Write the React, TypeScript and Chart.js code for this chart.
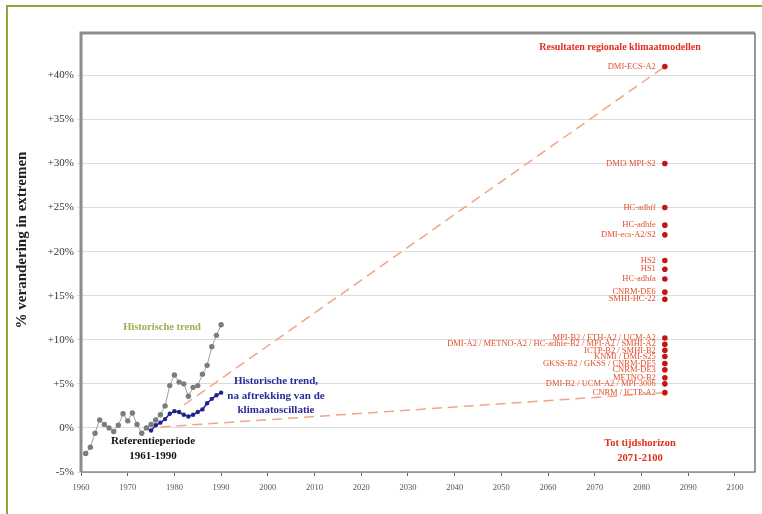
import React, { useEffect, useRef } from "react";
import { Chart, registerables } from "chart.js";

Chart.register(...registerables);

// Historic trend (yearly), % change in extremes
const histYears = [1961, 1962, 1963, 1964, 1965, 1966, 1967, 1968, 1969, 1970, 1971, 1972, 1973, 1974, 1975, 1976, 1977, 1978, 1979, 1980, 1981, 1982, 1983, 1984, 1985, 1986, 1987, 1988, 1989, 1990];
const histValues = [-2.9, -2.2, -0.6, 0.9, 0.4, 0.0, -0.4, 0.3, 1.6, 0.8, 1.7, 0.4, -0.6, 0.0, 0.4, 0.9, 1.5, 2.5, 4.8, 6.0, 5.2, 5.0, 3.6, 4.6, 4.8, 6.1, 7.1, 9.2, 10.5, 11.7];

// Historic trend after removing climate oscillation
const filtYears = [1974, 1975, 1976, 1977, 1978, 1979, 1980, 1981, 1982, 1983, 1984, 1985, 1986, 1987, 1988, 1989, 1990];
const filtValues = [0.0, -0.3, 0.3, 0.6, 1.0, 1.6, 1.9, 1.8, 1.5, 1.3, 1.5, 1.8, 2.1, 2.8, 3.3, 3.7, 4.0];

// Extrapolated envelopes
const upperYears = [1982, 2085];
const upperValues = [2.6, 41];
const lowerYears = [1977, 2085];
const lowerValues = [0.1, 4.0];

// Regional climate model results (horizon 2071-2100)
const modelYear = 2085;
const modelNames = [
  "DMI-ECS-A2",
  "DMI3 MPI-S2",
  "HC-adhff",
  "HC-adhfe",
  "DMI-ecs-A2/S2",
  "HS2",
  "HS1",
  "HC-adhfa",
  "CNRM-DE6",
  "SMHI-HC-22",
  "MPI-B2 / ETH-A2 / UCM-A2",
  "DMI-A2 / METNO-A2 / HC-adhfe-B2 / MPI-A2 / SMHI-A2",
  "ICTP-B2 / SMHI-B2",
  "KNMI / DMI-S25",
  "GKSS-B2 / GKSS / CNRM-DE5",
  "CNRM-DE3",
  "METNO-B2",
  "DMI-B2 / UCM-A2 / MPI-3006",
  "CNRM / ICTP-A2",
];
const modelValues = [41, 30, 25, 23, 21.9, 19, 18, 16.9, 15.4, 14.6, 10.2, 9.5, 8.8, 8.1, 7.3, 6.6, 5.7, 5.0, 4.0];

// Axes
const xTickYears = [1960, 1970, 1980, 1990, 2000, 2010, 2020, 2030, 2040, 2050, 2060, 2070, 2080, 2090, 2100];
const yTickValues = [-5, 0, 5, 10, 15, 20, 25, 30, 35, 40];
const yLabel = "% verandering in extremen";

const SERIF = "'Liberation Serif', 'DejaVu Serif', serif";

const decorPlugin = {
  id: "decor",
  beforeDraw(chart: any) {
    const ctx = chart.ctx;
    ctx.save();
    ctx.fillStyle = "#ffffff";
    ctx.fillRect(0, 0, chart.width, chart.height);
    // olive outer frame (top and left)
    ctx.strokeStyle = "#8fa53f";
    ctx.lineWidth = 2;
    ctx.beginPath();
    ctx.moveTo(7, chart.height);
    ctx.lineTo(7, 6);
    ctx.lineTo(chart.width, 6);
    ctx.stroke();
    ctx.restore();
  },
  afterDraw(chart: any) {
    const ctx = chart.ctx;
    const a = chart.chartArea;
    const xs = chart.scales.x;
    const ys = chart.scales.y;
    ctx.save();
    // plot frame
    ctx.strokeStyle = "#555";
    ctx.lineWidth = 1.2;
    ctx.beginPath();
    ctx.moveTo(a.right, a.top);
    ctx.lineTo(a.right, a.bottom);
    ctx.lineTo(a.left, a.bottom);
    ctx.stroke();
    ctx.strokeStyle = "#8c8c8c";
    ctx.lineWidth = 3;
    ctx.beginPath();
    ctx.moveTo(a.left, a.bottom);
    ctx.lineTo(a.left, a.top);
    ctx.lineTo(a.right, a.top);
    ctx.stroke();

    // y-axis title
    ctx.save();
    ctx.translate(22, 240);
    ctx.rotate(-Math.PI / 2);
    ctx.fillStyle = "#222";
    ctx.font = `bold 15px ${SERIF}`;
    ctx.textAlign = "center";
    ctx.textBaseline = "middle";
    ctx.fillText(yLabel, 0, 0);
    ctx.restore();

    // model labels
    ctx.font = `8.5px ${SERIF}`;
    ctx.fillStyle = "#e0502c";
    ctx.textAlign = "right";
    ctx.textBaseline = "middle";
    modelNames.forEach((n, i) => {
      ctx.fillText(n, xs.getPixelForValue(modelYear) - 9, ys.getPixelForValue(modelValues[i]));
    });

    const txt = (s: string, x: number, y: number, font: string, color: string) => {
      ctx.font = font;
      ctx.fillStyle = color;
      ctx.textAlign = "center";
      ctx.textBaseline = "middle";
      ctx.fillText(s, x, y);
    };
    txt("Resultaten regionale klimaatmodellen", 620, 47, `bold 10px ${SERIF}`, "#e0301c");
    txt("Tot tijdshorizon", 640, 443, `bold 10.5px ${SERIF}`, "#e0301c");
    txt("2071-2100", 640, 458, `bold 10.5px ${SERIF}`, "#e0301c");
    txt("Historische trend", 162, 327, `bold 10.5px ${SERIF}`, "#a0ae52");
    txt("Historische trend,", 276, 381, `bold 11px ${SERIF}`, "#2a2a9a");
    txt("na aftrekking van de", 276, 396, `bold 11px ${SERIF}`, "#2a2a9a");
    txt("klimaatoscillatie", 276, 410, `bold 11px ${SERIF}`, "#2a2a9a");
    txt("Referentieperiode", 153, 441, `bold 11px ${SERIF}`, "#111");
    txt("1961-1990", 153, 456, `bold 11px ${SERIF}`, "#111");
    ctx.restore();
  },
};

const toXY = (xs: number[], ys: number[]) => xs.map((x, i) => ({ x, y: ys[i] }));

export default function App() {
  const ref = useRef<HTMLCanvasElement | null>(null);
  useEffect(() => {
    if (!ref.current) return;
    const chart = new Chart(ref.current, {
      type: "line",
      data: {
        datasets: [
          {
            label: "Modellen",
            data: modelValues.map((v) => ({ x: modelYear, y: v })),
            showLine: false,
            pointRadius: 2.8,
            pointBackgroundColor: "#c41414",
            pointBorderWidth: 0,
            borderColor: "#c41414",
          },
          {
            label: "Historische trend",
            data: toXY(histYears, histValues),
            borderColor: "#a0a0a0",
            borderWidth: 1,
            pointRadius: 2.7,
            pointBackgroundColor: "#7c7c7c",
            pointBorderWidth: 0,
          },
          {
            label: "Gefilterd",
            data: toXY(filtYears, filtValues),
            borderColor: "#22228c",
            borderWidth: 1.5,
            pointRadius: 2.2,
            pointBackgroundColor: "#22228c",
            pointBorderWidth: 0,
          },
          {
            label: "Boven",
            data: toXY(upperYears, upperValues),
            borderColor: "#f2a486",
            borderWidth: 1.5,
            borderDash: [10, 6],
            pointRadius: 0,
          },
          {
            label: "Onder",
            data: toXY(lowerYears, lowerValues),
            borderColor: "#f2a486",
            borderWidth: 1.5,
            borderDash: [10, 6],
            pointRadius: 0,
          },
        ],
      },
      options: {
        responsive: false,
        animation: false,
        parsing: true,
        layout: { padding: { left: 0, top: 33, right: 7, bottom: 0 } },
        plugins: { legend: { display: false }, tooltip: { enabled: false }, title: { display: false } },
        scales: {
          x: {
            type: "linear",
            min: 1960,
            max: 2104.3,
            afterFit: (s: any) => { s.height = 42; },
            afterBuildTicks: (s: any) => { s.ticks = xTickYears.map((v) => ({ value: v })); },
            grid: { drawOnChartArea: false, drawTicks: true, tickLength: 4, color: "#666" },
            border: { display: false },
            ticks: {
              padding: 7,
              color: "#555",
              font: { family: SERIF, size: 8.5 },
              callback: (v: any) => String(v),
            },
          },
          y: {
            type: "linear",
            min: -5,
            max: 44.8,
            afterFit: (s: any) => { s.width = 81; },
            afterBuildTicks: (s: any) => { s.ticks = yTickValues.map((v) => ({ value: v })); },
            grid: { color: "#dcdcdc", lineWidth: 1, tickLength: 4 },
            border: { display: false },
            ticks: {
              padding: 3,
              color: "#333",
              font: { family: SERIF, size: 11 },
              callback: (v: any) => (v > 0 ? `+${v}%` : `${v}%`),
            },
          },
        },
      },
      plugins: [decorPlugin],
    });
    return () => chart.destroy();
  }, []);
  return (
    <div style={{ position: "fixed", left: 0, top: 0, width: 762, height: 514, background: "#fff" }}>
      <canvas ref={ref} width={762} height={514} style={{ width: 762, height: 514, display: "block" }} />
    </div>
  );
}
